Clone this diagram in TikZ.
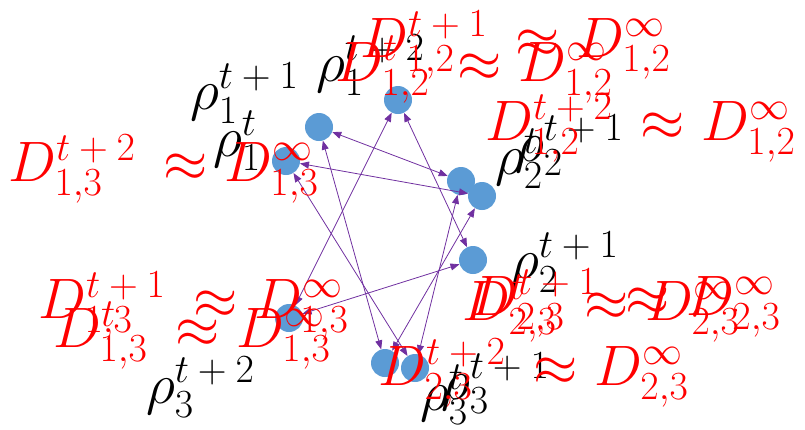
\RequirePackage{fix-cm}
\documentclass[tikz,border=0pt]{standalone}
\usepackage{amsmath}
\usepackage{fontspec}
\setmainfont{Carlito}
\DeclareSymbolFont{sansdigits}{TU}{\rmdefault}{m}{n}
\DeclareMathSymbol{1}{\mathalpha}{sansdigits}{`1}
\DeclareMathSymbol{2}{\mathalpha}{sansdigits}{`2}
\DeclareMathSymbol{3}{\mathalpha}{sansdigits}{`3}
\DeclareMathSymbol{+}{\mathbin}{sansdigits}{`+}
\usetikzlibrary{positioning, arrows.meta}
\definecolor{DotBlue}{HTML}{5B9BD5}
\definecolor{LinkPurple}{HTML}{7030A0}
\newcommand{\tnext}[1]{t\mskip\medmuskip+\mskip\medmuskip#1}

\begin{document}
\begin{tikzpicture}[
  x=1pt, y=-1pt,
  dot/.style={circle, fill=DotBlue, minimum size=28pt, inner sep=0pt},
  rho/.style={anchor=base west, inner sep=0pt, font=\fontsize{57}{60}\selectfont},
  approx/.style={rho, text=red},
  link/.style={{Triangle[length=9pt, width=7pt]}-{Triangle[length=9pt, width=7pt]},
               LinkPurple, line width=0.8pt},
]
  \useasboundingbox (0,0) rectangle (805,429);

  \node[dot] (r1t0) at (286,161) {};
  \node[dot] (r1t1) at (319,127) {};
  \node[dot] (r1t2) at (398,100) {};
  \node[dot] (r2t0) at (461,181) {};
  \node[dot] (r2t1) at (482,196) {};
  \node[dot] (r2t2) at (473,260) {};
  \node[dot] (r3t0) at (385,363) {};
  \node[dot] (r3t1) at (415,368) {};
  \node[dot] (r3t2) at (289,318) {};

  \draw[link] (r1t2) -- (r3t2);
  \draw[link] (r1t2) -- (r2t2);
  \draw[link] (r2t2) -- (r3t2);
  \draw[link] (r1t1) -- (r2t0);
  \draw[link] (r1t1) -- (r3t0);
  \draw[link] (r2t0) -- (r3t1);
  \draw[link] (r1t0) -- (r2t1);
  \draw[link] (r1t0) -- (r3t1);
  \draw[link] (r2t1) -- (r3t0);

  \node[rho] (l1t1) at (190,109) {$\rho_1^{\tnext{1}}$};
  \node[rho] (l1t2) at (316,81)  {$\rho_1^{\tnext{2}}$};
  \node[rho] (l1t0) at (213,156) {$\rho_1^{t}$};
  \node[rho] (l2t0) at (495,174) {$\rho_2^{t}$};
  \node[rho] (l2t1) at (515,161) {$\rho_2^{\tnext{1}}$};
  \node[rho] (l2t2) at (510,278) {$\rho_2^{\tnext{1}}$};
  \node[rho] (l3t2) at (146,403) {$\rho_3^{\tnext{2}}$};
  \node[rho] (l3t0) at (420,410) {$\rho_3^{t}$};
  \node[rho] (l3t1) at (441,399) {$\rho_3^{\tnext{1}}$};

  \node[approx] (d12a) at (335,81)  {$D_{1,2}^{t}\:\approx D_{1,2}^{\infty}$};
  \node[approx] (d12b) at (360,57)  {$D_{1,2}^{\tnext{1}}\:\approx D_{1,2}^{\infty}$};
  \node[approx] (d12c) at (485,140) {$D_{1,2}^{\tnext{2}}\:\approx D_{1,2}^{\infty}$};
  \node[approx] (d13c) at (8,181)   {$D_{1,3}^{\tnext{2}}\:\approx D_{1,3}^{\infty}$};
  \node[approx] (d13b) at (38,318)  {$D_{1,3}^{\tnext{1}}\:\approx D_{1,3}^{\infty}$};
  \node[approx] (d13a) at (53,347)  {$D_{1,3}^{t}\:\approx D_{1,3}^{\infty}$};
  \node[approx] (d23b) at (470,315) {$D_{2,3}^{\tnext{1}}\:\approx D_{2,3}^{\infty}$};
  \node[approx] (d23a) at (462,320) {$D_{2,3}^{t}\:\approx D_{2,3}^{\infty}$};
  \node[approx] (d23c) at (378,385) {$D_{2,3}^{\tnext{2}}\:\approx D_{2,3}^{\infty}$};
\end{tikzpicture}
\end{document}
